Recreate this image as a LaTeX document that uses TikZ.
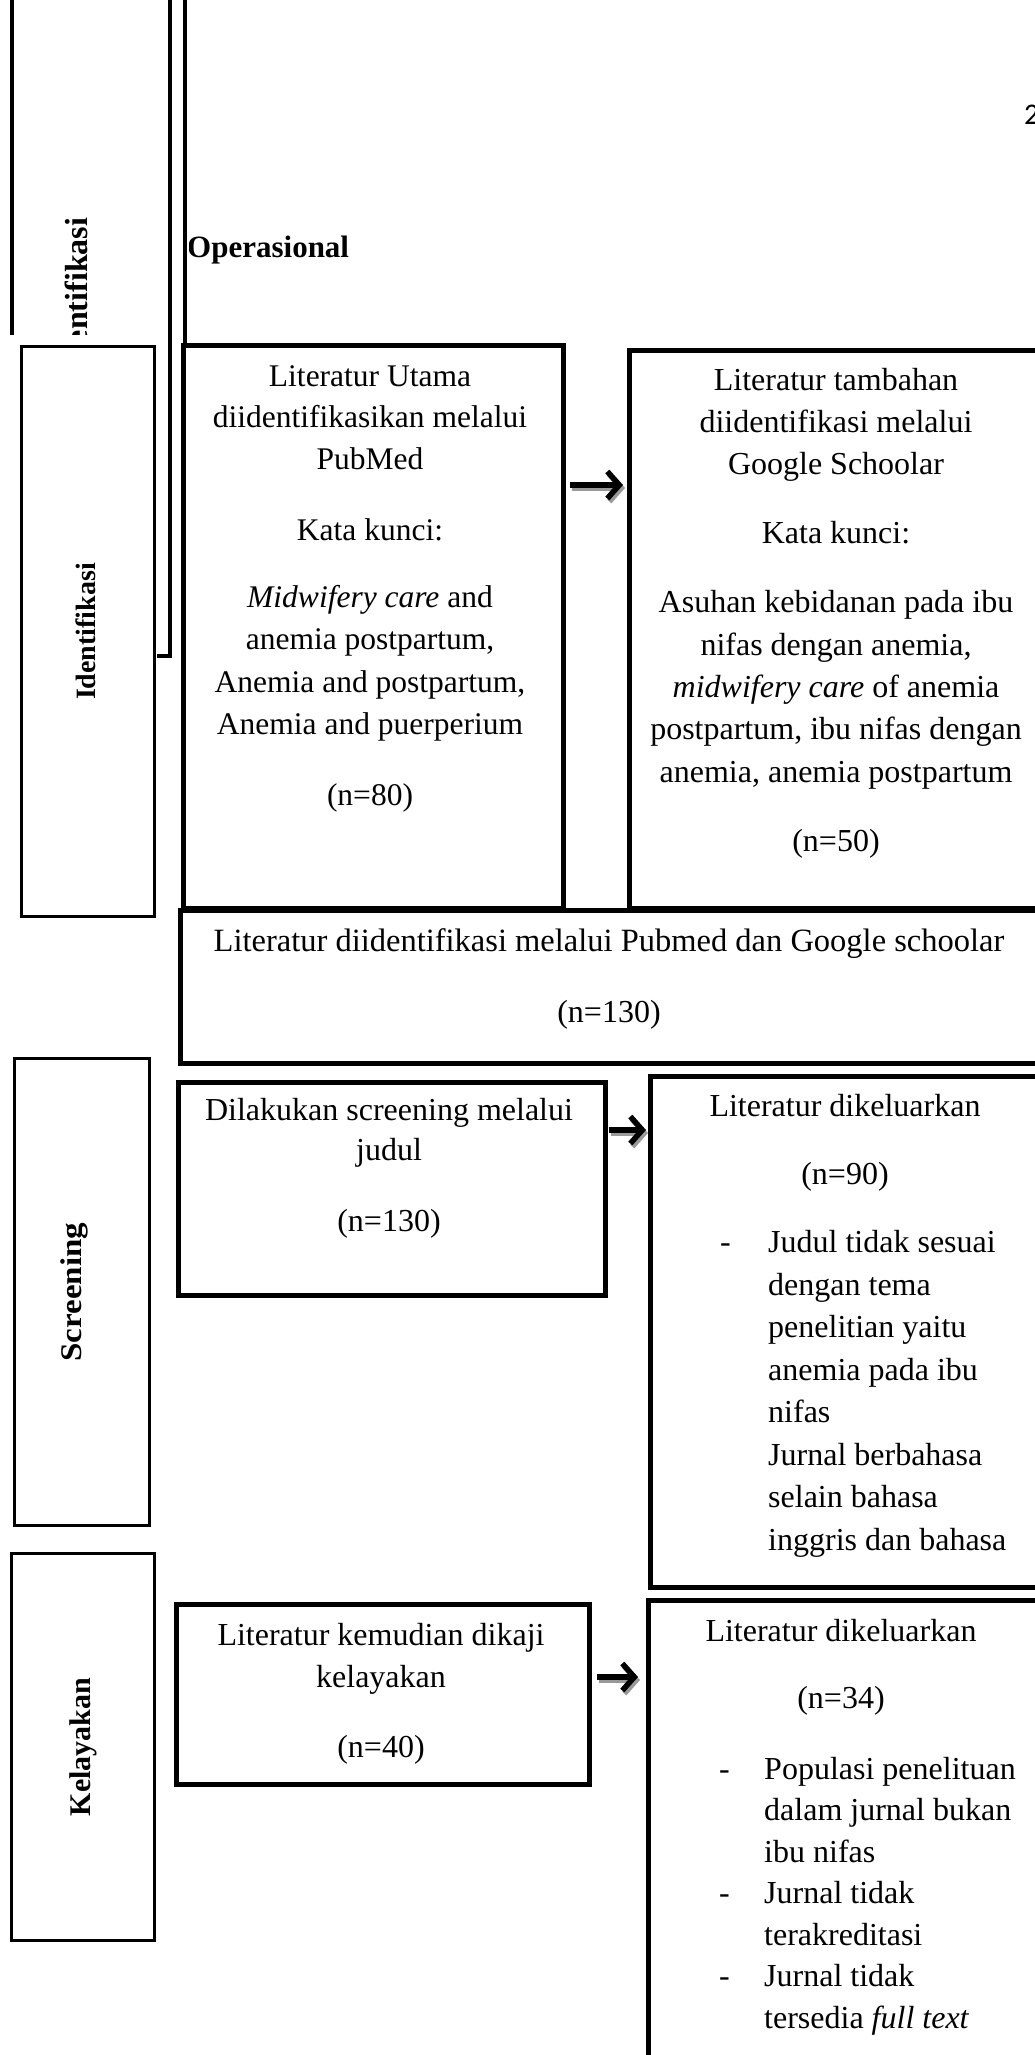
\documentclass[tikz,border=0pt]{standalone}
\usepackage{fontspec}
\setmainfont{Liberation Serif}
\newfontfamily\calib{Carlito}
\usetikzlibrary{arrows.meta}
\tikzset{
  box/.style={draw, line width=4.5pt, fill=white, inner sep=0pt, anchor=north west},
  lab/.style={draw, line width=3pt, fill=white, inner sep=0pt, anchor=north west},
  tc/.style={anchor=base, inner sep=0pt, font=\fontsize{31.5}{38}\selectfont},
  tw/.style={anchor=base, inner sep=0pt, font=\fontsize{32}{38}\selectfont},
  tr/.style={anchor=base, inner sep=0pt, font=\fontsize{32}{38}\selectfont},
  tl/.style={anchor=base west, inner sep=0pt, font=\fontsize{32}{38}\selectfont},
  vlab/.style={rotate=90, inner sep=0pt, font=\bfseries\fontsize{29}{34}\selectfont},
  arr/.style={line width=5.5pt, -{Straight Barb[length=12pt,width=27pt]}},
  arrsh/.style={arr, draw=black!40},
  rul/.style={line width=4pt}
}
\begin{document}
\begin{tikzpicture}[x=1pt,y=-1pt]
\useasboundingbox (0,0) rectangle (1035,2055);
\fill[white] (0,0) rectangle (1035,2055);

% top fragments
\draw[rul] (12,-5) -- (12,335);
\draw[rul] (170,-5) -- (170,656) -- (157,656);
\draw[rul] (185,-5) -- (185,345);
\begin{scope}
  \clip (30,0) rectangle (140,334);
  \node[vlab, font=\bfseries\fontsize{32}{36}\selectfont] (topid) at (76,296) {Identifikasi};
\end{scope}
\begin{scope}
  \clip (189,200) rectangle (420,300);
  \node[anchor=base west, inner sep=0pt, font=\bfseries\fontsize{31}{36}\selectfont] (oper) at (187,257) {Operasional};
\end{scope}
\node[anchor=base west, inner sep=0pt, font=\calib\fontsize{30}{36}\selectfont] (pg) at (1024,125) {2};

% label boxes
\node[lab, minimum width=133pt, minimum height=570pt] (lid) at (20,345) {};
\node[lab, minimum width=135pt, minimum height=467pt] (lsc) at (13,1057) {};
\node[lab, minimum width=143pt, minimum height=387pt] (lkel) at (10,1552) {};
\node[vlab, font=\bfseries\fontsize{28}{34}\selectfont] (tid) at ([xshift=-2pt]lid.center) {Identifikasi};
\node[vlab, font=\bfseries\fontsize{30}{34}\selectfont] (tsc) at ([xshift=-8pt]lsc.center) {\scalebox{1.1}[1]{Screening}};
\node[vlab, font=\bfseries\fontsize{30}{34}\selectfont] (tkel) at (lkel.center) {Kelayakan};

% main boxes
\node[box, minimum width=380pt, minimum height=563pt] (utama) at (181,343) {};
\node[box, minimum width=450pt, minimum height=558pt] (tamb) at (627,348) {};
\node[box, minimum width=900pt, minimum height=153pt] (big) at (178,908) {};
\node[box, minimum width=427pt, minimum height=213pt] (scr) at (176,1080) {};
\node[box, minimum width=420pt, minimum height=511pt] (dik1) at (648,1074) {};
\node[box, minimum width=413pt, minimum height=180pt] (kel) at (174,1602) {};
\node[box, minimum width=420pt, minimum height=520pt] (dik2) at (646,1598) {};

% texts: Literatur Utama
\foreach \s/\yy [count=\k] in {{Literatur Utama}/386, {diidentifikasikan melalui}/427, {PubMed}/469,
  {Kata kunci:}/540, {\textit{Midwifery care} and}/607, {anemia postpartum,}/649,
  {Anemia and postpartum,}/692, {Anemia and puerperium}/734, {(n=80)}/805}
  {\node[tc] (ua\k) at (370,\yy) {\s};}

% texts: Literatur tambahan
\foreach \s/\yy [count=\k] in {{Literatur tambahan}/390, {diidentifikasi melalui}/432, {Google Schoolar}/474,
  {Kata kunci:}/543, {Asuhan kebidanan pada ibu}/612, {nifas dengan anemia,}/655,
  {\textit{midwifery care} of anemia}/697, {postpartum, ibu nifas dengan}/739,
  {anemia, anemia postpartum}/782, {(n=50)}/851}
  {\node[tr] (tb\k) at (836,\yy) {\s};}

% big box
\node[tw, font=\fontsize{32.5}{38}\selectfont] (bg1) at (609,951) {Literatur diidentifikasi melalui Pubmed dan Google schoolar};
\node[tw] (bg2) at (609,1022) {(n=130)};

% screening box
\node[tw] (sc1) at (389,1120) {Dilakukan screening melalui};
\node[tw] (sc2) at (389,1160) {judul};
\node[tw] (sc3) at (389,1231) {(n=130)};

% dikeluarkan 1
\node[tr] (da1) at (845,1116) {Literatur dikeluarkan};
\node[tr] (da2) at (845,1184) {(n=90)};
\node[tl] (dd1) at (720,1252) {-};
\foreach \s/\yy [count=\k] in {{Judul tidak sesuai}/1252, {dengan tema}/1295, {penelitian yaitu}/1337,
  {anemia pada ibu}/1380, {nifas}/1422, {Jurnal berbahasa}/1465, {selain bahasa}/1507,
  {inggris dan bahasa}/1550}
  {\node[tl] (dl\k) at (768,\yy) {\s};}

% kelayakan box
\node[tw] (kl1) at (381,1645) {Literatur kemudian dikaji};
\node[tw] (kl2) at (381,1687) {kelayakan};
\node[tw] (kl3) at (381,1757) {(n=40)};

% dikeluarkan 2
\node[tr] (db1) at (841,1641) {Literatur dikeluarkan};
\node[tr] (db2) at (841,1708) {(n=34)};
\node[tl] (de1) at (719,1779) {-};
\node[tl] (de2) at (719,1903) {-};
\node[tl] (de3) at (719,1986) {-};
\foreach \s/\yy [count=\k] in {{Populasi penelituan}/1779, {dalam jurnal bukan}/1820, {ibu nifas}/1862,
  {Jurnal tidak}/1903, {terakreditasi}/1945, {Jurnal tidak}/1986, {tersedia \textit{full text}}/2028}
  {\node[tl] (dm\k) at (764,\yy) {\s};}

% arrows
\coordinate (ya) at (0,485);
\coordinate (yb) at (0,1130);
\coordinate (yc) at (0,1677);
\draw[arrsh, shorten <=4pt, shorten >=4pt, transform canvas={xshift=2pt,yshift=-3pt}] (utama.east |- ya) -- (tamb.west |- ya);
\draw[arr, shorten <=4pt, shorten >=4pt] (utama.east |- ya) -- (tamb.west |- ya);
\draw[arrsh, shorten <=1pt, shorten >=2pt, transform canvas={xshift=2pt,yshift=-3pt}] (scr.east |- yb) -- (dik1.west |- yb);
\draw[arr, shorten <=1pt, shorten >=2pt] (scr.east |- yb) -- (dik1.west |- yb);
\draw[arrsh, shorten <=5pt, shorten >=8pt, transform canvas={xshift=2pt,yshift=-3pt}] (kel.east |- yc) -- (dik2.west |- yc);
\draw[arr, shorten <=5pt, shorten >=8pt] (kel.east |- yc) -- (dik2.west |- yc);
\end{tikzpicture}
\end{document}
